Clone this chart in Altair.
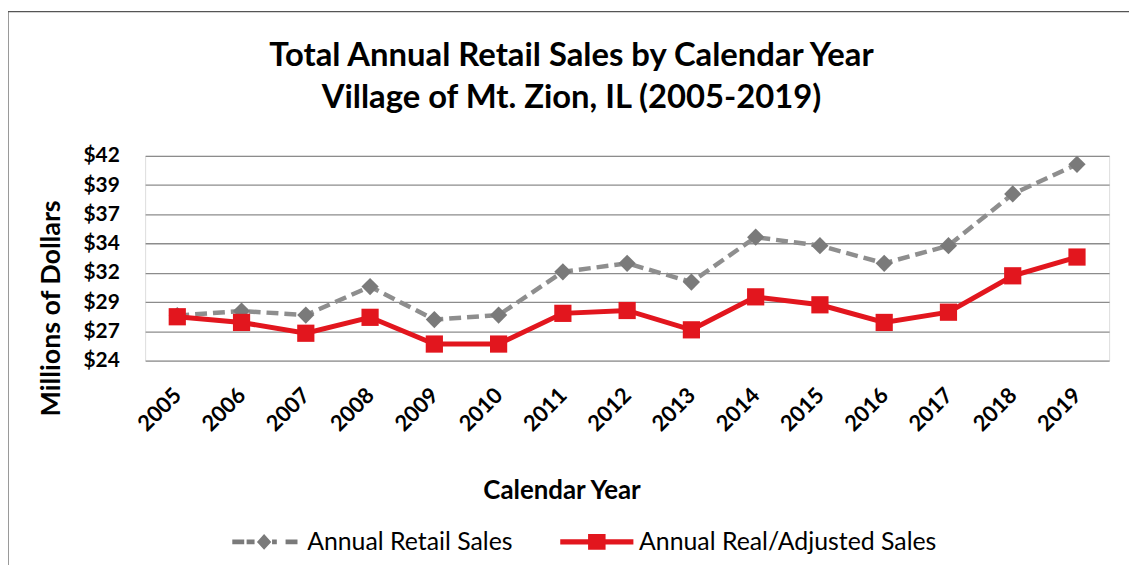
import altair as alt
import pandas as pd

years = [str(y) for y in range(2005, 2020)]
retail = [27.95, 28.35, 28.0, 30.5, 27.6, 28.0, 31.8, 32.55, 30.9, 34.85, 34.1, 32.55, 34.1, 38.65, 41.25]
real = [27.85, 27.35, 26.4, 27.8, 25.45, 25.45, 28.15, 28.4, 26.7, 29.6, 28.9, 27.35, 28.25, 31.45, 33.1]
series_names = ["Annual Retail Sales", "Annual Real/Adjusted Sales"]
y_min, y_max = 24, 42
y_ticks = [y_min + i * (y_max - y_min) / 7 for i in range(8)]

FONT = "Lato"
GRAY = "#8e8e8e"
GRAY_DARK = "#7a7a7a"
RED = "#e2161e"

df = pd.DataFrame({
    "year": years * 2,
    "value": retail + real,
    "series": [series_names[0]] * len(years) + [series_names[1]] * len(years),
})

x_enc = alt.X("year:O", sort=years,
              scale=alt.Scale(type="point", padding=0.5),
              axis=alt.Axis(title="Calendar Year", labelAngle=-45, labelAlign="right",
                            labelBaseline="middle", labelPadding=31, labelFont=FONT,
                            labelFontSize=22, labelFontWeight="bold", labelColor="black",
                            ticks=False, domain=False, grid=False,
                            titleFont=FONT, titleFontSize=26, titleFontWeight="bold",
                            titleColor="black", titleX=419, titleY=131,
                            titleBaseline="middle", titleAlign="center"))
y_enc = alt.Y("value:Q",
              scale=alt.Scale(domain=[y_min, y_max], nice=False, zero=False),
              axis=alt.Axis(title="Millions of Dollars", values=y_ticks, format="$.0f",
                            labelFont=FONT, labelFontSize=21, labelFontWeight="bold",
                            labelColor="black", labelPadding=26, ticks=False, domain=False,
                            grid=True, gridColor="#8c8c8c", gridWidth=1.3,
                            titleFont=FONT, titleFontSize=27, titleFontWeight="bold",
                            titleColor="black", titleX=-94, titleY=153,
                            titleBaseline="middle", titleAlign="center", titleAngle=-90))

gray_path = ("M-4.1,-0.3L-2.6,-0.3L-2.6,0.3L-4.1,0.3Z"
             "M-2.3,-0.3L-1.3,-0.3L-1.3,0.3L-2.3,0.3Z"
             "M-0.1,-1L0.8,0L-0.1,1L-1,0Z"
             "M0.9,-0.3L1.5,-0.3L1.5,0.3L0.9,0.3Z"
             "M2.6,-0.3L4.1,-0.3L4.1,0.3L2.6,0.3Z")
red_path = ("M-4.6,-0.33L4.6,-0.33L4.6,0.33L-4.6,0.33Z"
            "M-1.1,-1L1.1,-1L1.1,1L-1.1,1Z")

base = alt.Chart(df)

gray_data = base.transform_filter(alt.datum.series == series_names[0])
red_data = base.transform_filter(alt.datum.series == series_names[1])

gray_line = gray_data.mark_line(color=GRAY, strokeWidth=4.5, strokeDash=[12, 6]).encode(x=x_enc, y=y_enc)
gray_pts = gray_data.mark_point(shape="diamond", filled=True, size=300, opacity=1).encode(
    x=x_enc, y=y_enc,
    color=alt.Color("series:N", scale=alt.Scale(domain=[series_names[0]], range=[GRAY_DARK]),
                    legend=alt.Legend(title=None, orient="none", legendX=108, legendY=376,
                                      symbolType=gray_path, symbolSize=256,
                                      symbolFillColor=GRAY, symbolStrokeWidth=0,
                                      labelFont=FONT, labelFontSize=25, labelColor="black",
                                      labelOffset=30, padding=0, labelLimit=0)))
red_line = red_data.mark_line(color=RED, strokeWidth=5).encode(x=x_enc, y=y_enc)
red_pts = red_data.mark_point(shape="square", filled=True, size=300, opacity=1).encode(
    x=x_enc, y=y_enc,
    color=alt.Color("series:N", scale=alt.Scale(domain=[series_names[1]], range=[RED]),
                    legend=alt.Legend(title=None, orient="none", legendX=442, legendY=376,
                                      symbolType=red_path, symbolSize=256,
                                      symbolFillColor=RED, symbolStrokeWidth=0,
                                      labelFont=FONT, labelFontSize=25, labelColor="black",
                                      labelOffset=30, padding=0, labelLimit=0)))

frame_df = pd.DataFrame({"a": [0]})
frame_left = alt.Chart(frame_df).mark_rule(color="#555555", strokeWidth=1.2).encode(
    x=alt.value(-138), y=alt.value(-145), y2=alt.value(414))
frame_top = alt.Chart(frame_df).mark_rule(color="#555555", strokeWidth=1.2).encode(
    x=alt.value(-138), x2=alt.value(990), y=alt.value(-145))

chart = alt.layer(frame_left, frame_top, gray_line, gray_pts, red_line, red_pts).resolve_scale(
    color="independent").resolve_legend(color="independent").properties(
    width=970, height=206,
    padding={"left": 138, "top": 147, "right": 20, "bottom": 204},
    autosize=alt.AutoSizeParams(type="none"),
    title=alt.TitleParams(
        text=["Total Annual Retail Sales by Calendar Year", "Village of Mt. Zion, IL (2005-2019)"],
        font=FONT, fontSize=33, fontWeight="bold", color="black", anchor="middle",
        frame="group", dx=-56, offset=-104, lineHeight=42),
).configure_view(stroke=None).configure(background="white")

chart.save("out.html", embed_options={"renderer": "svg", "actions": False})
